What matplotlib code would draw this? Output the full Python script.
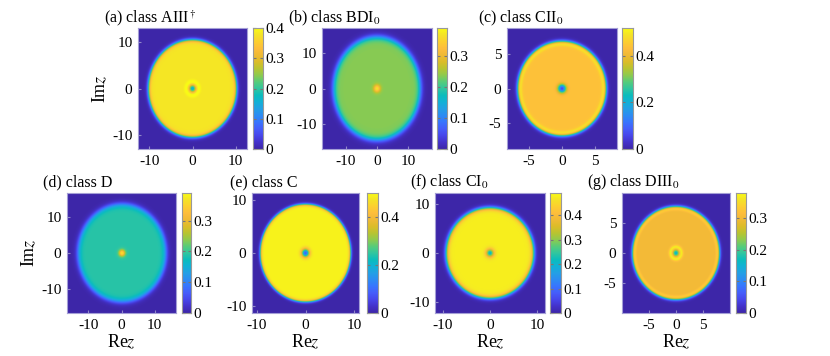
"""
Eigenvalue density maps in the complex plane for seven symmetry classes.
"""

import numpy as np
import matplotlib
matplotlib.use("Agg")
import matplotlib.pyplot as plt
from matplotlib.colors import LinearSegmentedColormap
from matplotlib.ticker import FuncFormatter

W, H = 830, 356

# MATLAB parula anchors (every few entries of the 64-entry table)
PARULA = [
    (0.2422, 0.1504, 0.6603), (0.2647, 0.1978, 0.7952), (0.2803, 0.2782, 0.9221),
    (0.2760, 0.3667, 0.9829), (0.2206, 0.4603, 0.9973), (0.1764, 0.5499, 0.9520),
    (0.1380, 0.6276, 0.8973), (0.0689, 0.6948, 0.8394), (0.0433, 0.7411, 0.7394),
    (0.1938, 0.7758, 0.6251), (0.3406, 0.8008, 0.4789), (0.5616, 0.7942, 0.3045),
    (0.7242, 0.7698, 0.1910), (0.8634, 0.7406, 0.1596), (0.9393, 0.7288, 0.2100),
    (0.9956, 0.7434, 0.2371), (0.9892, 0.8136, 0.1885), (0.9610, 0.8890, 0.1537),
    (0.9769, 0.9839, 0.0805),
]
CMAP = LinearSegmentedColormap.from_list("parula", PARULA, N=256)

# ---- panel data -----------------------------------------------------------
titles = [r"(a) class AIII$^\dagger$", r"(b) class BDI$_0$", r"(c) class CII$_0$",
          r"(d) class D", r"(e) class C", r"(f) class CI$_0$", r"(g) class DIII$_0$"]
x_half = [12.6, 17.5, 8.3, 16.5, 11.0, 11.7, 10.0]
y_half = [12.9, 17.0, 8.8, 16.8, 11.3, 12.2, 10.0]
axis_ticks = [[-10, 0, 10], [-10, 0, 10], [-5, 0, 5], [-10, 0, 10],
              [-10, 0, 10], [-10, 0, 10], [-5, 0, 5]]
cbar_max = [0.40, 0.39, 0.52, 0.39, 0.50, 0.49, 0.38]
cbar_ticks = [[0, 0.1, 0.2, 0.3, 0.4], [0, 0.1, 0.2, 0.3], [0, 0.2, 0.4],
              [0, 0.1, 0.2, 0.3], [0, 0.2, 0.4], [0, 0.1, 0.2, 0.3, 0.4],
              [0, 0.1, 0.2, 0.3]]
# disk shape and density levels
disk_rx = [10.2, 13.8, 6.7, 13.2, 9.3, 9.3, 8.1]
disk_ry = [10.4, 14.5, 6.9, 13.7, 9.2, 9.2, 7.8]
plateau = [0.38, 0.235, 0.44, 0.19, 0.49, 0.475, 0.30]
edge_w = [0.45, 1.0, 0.3, 0.9, 0.3, 0.5, 0.3]
rim_amp = [0.0, 0.0, 0.07, 0.0, 0.0, 0.0, 0.05]
center_val = [0.15, 0.37, 0.06, 0.37, 0.08, 0.2, 0.15]
center_r = [0.75, 1.0, 0.6, 0.9, 0.75, 0.8, 0.5]
ring_amp = [0.03, 0.0, 0.0, 0.0, 0.0, 0.0, 0.07]
ring_r = [1.4, 0.0, 0.0, 0.0, 0.0, 0.0, 1.0]
ring_w = [0.5, 1.0, 1.0, 1.0, 1.0, 1.0, 0.35]

# pixel boxes: image left, right, top, bottom; colorbar left, right
img_px = [(138, 247, 28, 149), (322, 432, 28, 149), (507, 617, 28, 149),
          (67, 176, 193, 313), (252, 359, 193, 313), (435, 545, 193, 313),
          (622, 730, 193, 313)]
cb_px = [(253, 263), (437, 447), (622, 633), (182, 191), (367, 378),
         (550, 561), (736, 746)]
title_px = [(104, 18), (288, 18), (478, 18), (43, 182), (230, 182),
            (410, 182), (587, 182)]


def density(i, n=400):
    x = np.linspace(-x_half[i], x_half[i], n)
    y = np.linspace(-y_half[i], y_half[i], n)
    X, Y = np.meshgrid(x, y)
    r = np.hypot(X, Y)
    s = np.hypot(X / disk_rx[i], Y / disk_ry[i])
    w = edge_w[i] / ((disk_rx[i] + disk_ry[i]) / 2)
    rho = plateau[i] * 0.5 * (1 - np.tanh((s - 1.0) / w))
    rho += rim_amp[i] * np.exp(-((s - 1.0 + 1.3 * w) / w) ** 2)
    rho += (center_val[i] - plateau[i]) * np.exp(-(r / center_r[i]) ** 2)
    rho += ring_amp[i] * np.exp(-((r - ring_r[i]) / ring_w[i]) ** 2)
    return rho


def fig_box(l, r, t, b):
    return [l / W, 1 - b / H, (r - l) / W, (b - t) / H]


def main():
    plt.rcParams.update({
        "font.family": "Liberation Serif", "mathtext.fontset": "stix",
        "axes.unicode_minus": False, "font.size": 11,
    })
    fig = plt.figure(figsize=(W / 100, H / 100), dpi=100)
    fmt = FuncFormatter(lambda v, p: f"{v:g}")

    for i in range(7):
        l, r, t, b = img_px[i]
        ax = fig.add_axes(fig_box(l, r, t, b))
        ax.imshow(density(i), cmap=CMAP, vmin=0, vmax=cbar_max[i], origin="lower",
                  extent=[-x_half[i], x_half[i], -y_half[i], y_half[i]],
                  aspect="auto", interpolation="antialiased")
        ax.set_xticks(axis_ticks[i])
        ax.set_yticks(axis_ticks[i])
        ax.xaxis.set_major_formatter(fmt)
        ax.yaxis.set_major_formatter(fmt)
        ax.tick_params(direction="in", length=2.5, color="#8f86c9", labelsize=11, pad=4)
        for sp in ax.spines.values():
            sp.set_color("#a49fd6")
            sp.set_linewidth(0.8)

        cl, cr = cb_px[i]
        cax = fig.add_axes(fig_box(cl, cr, t, b))
        grad = np.linspace(0, cbar_max[i], 256).reshape(-1, 1)
        cax.imshow(grad, cmap=CMAP, vmin=0, vmax=cbar_max[i], origin="lower",
                   extent=[0, 1, 0, cbar_max[i]], aspect="auto")
        cax.set_xticks([])
        cax.yaxis.tick_right()
        cax.set_yticks(cbar_ticks[i])
        cax.yaxis.set_major_formatter(fmt)
        cax.tick_params(axis="y", direction="in", length=2, color="#777777",
                        labelsize=11, pad=2, right=True, left=True)
        for sp in cax.spines.values():
            sp.set_color("#999999")
            sp.set_linewidth(0.8)

        tx, ty = title_px[i]
        fig.text(tx / W, 1 - ty / H, titles[i], fontsize=11.5, ha="left", va="center")

        if i in (0, 3):
            ax.set_ylabel(r"Im$z$", fontsize=13, labelpad=2)
        if i >= 3:
            ax.set_xlabel(r"Re$z$", fontsize=13, labelpad=1)

    fig.savefig("out.png", dpi=100, facecolor="white")
    plt.close(fig)


if __name__ == "__main__":
    main()
